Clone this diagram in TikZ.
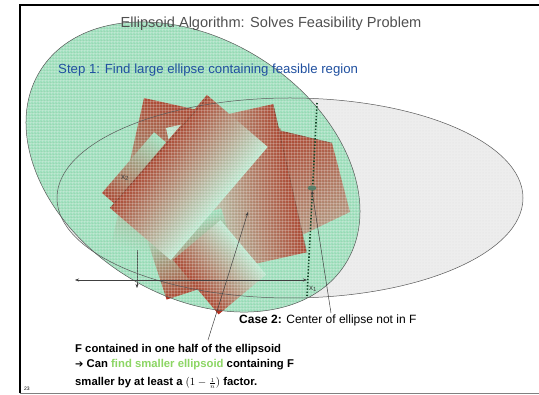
\documentclass[tikz,border=0pt]{standalone}
\usepackage{amsmath}
\usepackage{fontspec}
\setmainfont{Liberation Sans}
\newfontfamily\symfont{DejaVu Sans}
\usetikzlibrary{arrows.meta,patterns,shapes.geometric}
\definecolor{ellgreen}{RGB}{160,224,190}
\definecolor{ellgray}{RGB}{237,237,237}
\definecolor{rectred}{RGB}{178,44,26}
\definecolor{rectlight}{RGB}{200,238,218}
\definecolor{titlegray}{RGB}{80,80,80}
\definecolor{stepblue}{RGB}{32,80,160}
\definecolor{findgreen}{RGB}{140,214,100}
\definecolor{dotgreen}{RGB}{20,70,40}
\newcommand\grect[6]{\begin{scope}[transform canvas={shift={(#1,#2)},rotate=#3}]\shade[#6] (0,0) rectangle (#4,#5);\end{scope}}
\tikzset{
  outl/.style={draw=black!65, line width=0.5pt},
  edgeln/.style={draw=rectred!45!black, line width=0.4pt, opacity=0.7},
  conn/.style={draw=black!75, line width=0.5pt, -{Stealth[length=4pt,width=3pt]}},
  axislbl/.style={text=black!75, font=\fontsize{8}{8}\selectfont, inner sep=0pt},
  fadeA/.style={top color=rectred, middle color=rectred!75!rectlight, bottom color=rectlight},
  fadeB/.style={top color=rectred, middle color=ellgreen!60!rectred, bottom color=ellgreen},
  fadeD/.style={left color=rectlight, middle color=rectred!78!rectlight, right color=rectred},
  fadeF/.style={top color=ellgreen, middle color=rectred!70!ellgreen, bottom color=rectred},
  fadeG/.style={left color=rectred, middle color=rectred!72!rectlight, right color=rectlight},
  fadeC/.style={left color=rectred, right color=ellgreen},
  bottomtext/.style={anchor=base west, inner sep=0pt, font=\bfseries\fontsize{11.3}{13}\selectfont},
}
\begin{document}
\begin{tikzpicture}[x=1pt,y=-1pt]
\useasboundingbox (0,0) rectangle (539,395);
\fill[white] (0,0) rectangle (539,395);
\begin{scope}
\clip (0,0) rectangle (539,395);
% frame
\draw[line width=2pt] (560,5) -- (19.5,5) -- (19.5,393);
\draw[black!50, line width=0.8pt] (19.5,393) -- (560,393);
% grey ellipse
\fill[ellgray] (290,198) ellipse [x radius=233, y radius=100];
\fill[pattern=dots, pattern color=black!12] (290,198) ellipse [x radius=233, y radius=100];
% green ellipse
\fill[ellgreen, rotate around={-32.6:(193,167)}] (193,167) ellipse [x radius=180.6, y radius=127.7];
% x2 axis (under the regions)
\coordinate (x2top) at (137,182);
\coordinate (x2bot) at (137,288);
\draw[conn] (x2top) -- (x2bot);
% feasible region pieces
\grect{144}{98}{-12.6}{140}{150}{fadeB}
\grect{102}{193}{49.4}{80}{30}{fadeC}
\shade[top color=rectred, bottom color=rectlight!50!rectred, shading angle=25] (270,128) -- (332,143) -- (350,212) -- (300,236) -- cycle;
\draw[edgeln] (280,131) -- (332,143);
\grect{166}{128}{12.6}{110}{152}{fadeD}
\draw[edgeln] (273,104) -- (307,253);
\grect{145}{233}{18}{80}{70}{fadeF}
\grect{110}{208}{49.4}{149}{80}{fadeA}
\draw[edgeln] (110,208) -- (208,97);
\grect{173}{260}{40}{62}{71}{fadeG}
% green overlay
\fill[ellgreen, opacity=0.18, rotate around={-32.6:(193,167)}] (193,167) ellipse [x radius=180.6, y radius=127.7];
\fill[pattern=grid, pattern color=white, opacity=0.22, rotate around={-32.6:(193,167)}] (193,167) ellipse [x radius=180.6, y radius=127.7];
\fill[pattern=dots, pattern color=green!35!black, opacity=0.3, rotate around={-32.6:(193,167)}] (193,167) ellipse [x radius=180.6, y radius=127.7];
% outlines
\draw[outl] (290,198) ellipse [x radius=233, y radius=100];
\draw[outl, rotate around={-32.6:(193,167)}] (193,167) ellipse [x radius=180.6, y radius=127.7];
% x1 axis
\coordinate (x1l) at (75,280);
\coordinate (x1r) at (307,280);
\draw[conn, {Stealth[length=4pt,width=3pt]}-{Stealth[length=4pt,width=3pt]}] (x1l) -- (x1r);
\node[axislbl] (x1) at (313,289) {x\textsubscript{1}};
\node[axislbl] (x2) at (125,178) {x\textsubscript{2}};
% separating line through centre
\coordinate (cuttop) at (317,103);
\coordinate (cutbot) at (307,296);
\draw[dotgreen, line width=1.6pt, dash pattern=on 1.4pt off 1.8pt] (cuttop) -- (cutbot);
\node[ellipse, fill=dotgreen!70, inner sep=0pt, minimum width=9pt, minimum height=5pt] (ctr) at (312,188) {};
% texts
\node[anchor=base, text=titlegray, font=\fontsize{14.6}{17}\selectfont] (title) at (271,28) {Ellipsoid Algorithm: Solves Feasibility Problem};
\node[anchor=base west, text=stepblue, font=\fontsize{13.2}{16}\selectfont, inner sep=0pt] (step) at (58,74) {Step 1: Find large ellipse containing feasible region};
\node[anchor=base west, inner sep=0pt, font=\fontsize{12}{14}\selectfont] (case) at (239,324) {\textbf{Case 2:} Center of ellipse not in F};
\node[bottomtext] (f1) at (75,352.5) {F contained in one half of the ellipsoid};
\node[bottomtext] (f2) at (75,368) {{\symfont\fontsize{10}{11}\selectfont ➔} Can \textcolor{findgreen}{find smaller ellipsoid} containing F};
\node[bottomtext] (f3) at (75,385.5) {smaller by at least a $(1-{\scriptstyle\frac{1}{n}})$ factor.};
\node[anchor=base west, inner sep=0pt, font=\fontsize{5}{6}\selectfont] (pg) at (24,391) {23};
% pointers
\coordinate (fstart) at (208,340);
\coordinate (fend) at (248,212);
\draw[conn] (fstart) -- (fend);
\coordinate (cstart) at (331,313);
\draw[conn] (cstart) -- (ctr.south);
\end{scope}
\end{tikzpicture}
\end{document}
